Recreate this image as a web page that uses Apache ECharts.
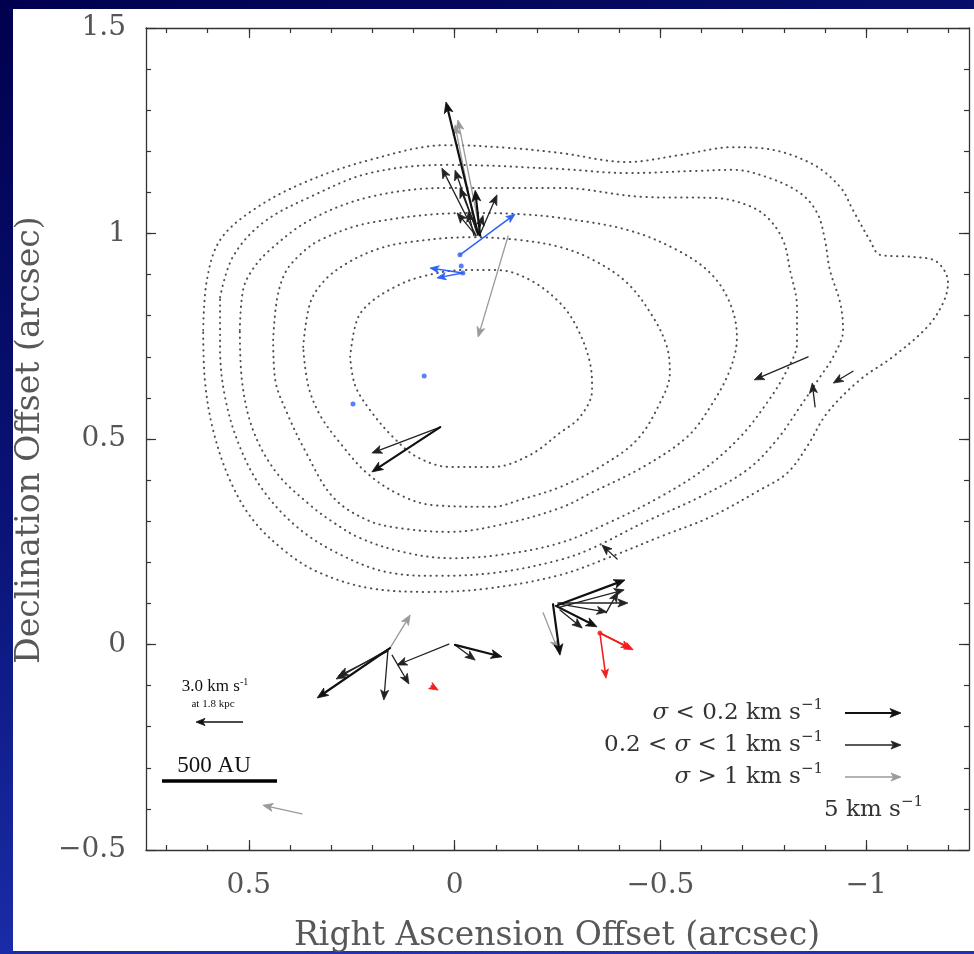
<!DOCTYPE html>
<html>
<head>
<meta charset="utf-8">
<script src="https://cdn.jsdelivr.net/npm/echarts@6/dist/echarts.min.js"></script>
<style>
  html, body { margin: 0; padding: 0; background: #000058; }
  #chart { width: 974px; height: 954px; }
</style>
</head>
<body>
<div id="chart"></div>
<script>
// Axis ticks (arcsec offsets)
const xMajorTicks = [0.5, 0, -0.5, -1];
const xMinorTicks = [0.7, 0.6, 0.5, 0.4, 0.3, 0.2, 0.1, 0, -0.1, -0.2, -0.3, -0.4, -0.5, -0.6, -0.7, -0.8, -0.9, -1, -1.1, -1.2];
const yMajorTicks = [1.5, 1, 0.5, 0, -0.5];
const yMinorTicks = [1.4, 1.3, 1.2, 1.1, 1, 0.9, 0.8, 0.7, 0.6, 0.5, 0.4, 0.3, 0.2, 0.1, 0, -0.1, -0.2, -0.3, -0.4];

// Continuum contours, outermost first: [RA offset, Dec offset]
const contour1 = [[0.611,0.765],[0.602,0.887],[0.570,0.984],[0.490,1.057],[0.368,1.123],[0.206,1.179],[0.018,1.215],[-0.135,1.208],[-0.256,1.196],[-0.419,1.174],[-0.548,1.191],[-0.677,1.210],[-0.742,1.208],[-0.864,1.172],[-0.937,1.113],[-0.968,1.057],[-1.009,0.984],[-1.034,0.948],[-1.114,0.943],[-1.172,0.931],[-1.199,0.880],[-1.187,0.831],[-1.148,0.772],[-1.065,0.700],[-0.985,0.644],[-0.905,0.563],[-0.856,0.481],[-0.808,0.417],[-0.742,0.376],[-0.621,0.310],[-0.499,0.262],[-0.378,0.213],[-0.256,0.169],[-0.086,0.137],[0.060,0.128],[0.206,0.137],[0.327,0.174],[0.407,0.223],[0.490,0.303],[0.546,0.400],[0.587,0.522],[0.607,0.644],[0.611,0.765]];
const contour2 = [[0.570,0.845],[0.539,0.943],[0.466,1.026],[0.351,1.089],[0.206,1.147],[0.018,1.167],[-0.256,1.157],[-0.419,1.147],[-0.579,1.152],[-0.677,1.155],[-0.759,1.137],[-0.839,1.099],[-0.881,1.050],[-0.900,0.984],[-0.912,0.911],[-0.937,0.831],[-0.944,0.765],[-0.920,0.700],[-0.888,0.651],[-0.839,0.578],[-0.783,0.498],[-0.711,0.425],[-0.596,0.359],[-0.458,0.296],[-0.336,0.235],[-0.256,0.206],[-0.110,0.176],[0.035,0.167],[0.164,0.176],[0.286,0.223],[0.383,0.286],[0.466,0.376],[0.522,0.481],[0.558,0.602],[0.570,0.724],[0.570,0.845]];
const contour3 = [[0.522,0.765],[0.514,0.863],[0.492,0.911],[0.449,0.960],[0.351,1.033],[0.206,1.089],[0.018,1.111],[-0.256,1.111],[-0.458,1.089],[-0.638,1.086],[-0.711,1.069],[-0.759,1.040],[-0.798,0.984],[-0.815,0.911],[-0.832,0.821],[-0.832,0.734],[-0.808,0.668],[-0.759,0.588],[-0.694,0.505],[-0.604,0.425],[-0.499,0.359],[-0.378,0.298],[-0.256,0.247],[-0.110,0.218],[0.011,0.210],[0.125,0.225],[0.230,0.259],[0.296,0.298],[0.351,0.339],[0.432,0.417],[0.490,0.522],[0.517,0.644],[0.522,0.765]];
const contour4 = [[0.441,0.741],[0.432,0.838],[0.412,0.904],[0.376,0.948],[0.327,0.984],[0.206,1.026],[-0.037,1.050],[-0.159,1.047],[-0.256,1.038],[-0.419,1.009],[-0.540,0.960],[-0.621,0.904],[-0.669,0.831],[-0.686,0.748],[-0.669,0.668],[-0.621,0.578],[-0.565,0.505],[-0.458,0.432],[-0.336,0.371],[-0.256,0.332],[-0.110,0.291],[0.011,0.274],[0.133,0.283],[0.213,0.303],[0.296,0.359],[0.364,0.473],[0.407,0.563],[0.436,0.644],[0.441,0.741]];
const contour5 = [[0.368,0.724],[0.351,0.831],[0.315,0.887],[0.261,0.928],[0.193,0.960],[0.125,0.977],[-0.037,0.991],[-0.159,0.984],[-0.256,0.967],[-0.336,0.936],[-0.419,0.880],[-0.482,0.797],[-0.516,0.724],[-0.523,0.661],[-0.499,0.588],[-0.443,0.498],[-0.353,0.432],[-0.256,0.383],[-0.159,0.352],[-0.093,0.335],[0.052,0.339],[0.133,0.364],[0.213,0.417],[0.278,0.490],[0.327,0.558],[0.356,0.631],[0.368,0.724]];
const contour6 = [[0.254,0.700],[0.237,0.790],[0.206,0.831],[0.145,0.870],[0.084,0.894],[-0.020,0.911],[-0.103,0.911],[-0.183,0.887],[-0.256,0.831],[-0.297,0.772],[-0.329,0.685],[-0.334,0.619],[-0.305,0.554],[-0.256,0.515],[-0.183,0.461],[-0.093,0.432],[0.011,0.432],[0.091,0.456],[0.150,0.505],[0.206,0.571],[0.242,0.631],[0.254,0.700]];

// Maser proper motions: [RA0, Dec0, RA1, Dec1] (start -> tip)
const arrowsLowSigma = [ // sigma < 0.2 km/s
  [-0.057, 0.999, 0.021, 1.320],
  [-0.062, 0.995, -0.050, 1.105],
  [0.035, 0.529, 0.201, 0.420],
  [-0.251, 0.096, -0.414, 0.157],
  [-0.246, 0.094, -0.346, 0.043],
  [-0.239, 0.098, -0.256, -0.026],
  [0.157, -0.009, 0.334, -0.130],
  [-0.001, -0.001, -0.115, -0.030]
];
const arrowsMidSigma = [ // 0.2 < sigma < 1 km/s
  [-0.052, 0.995, 0.031, 1.159],
  [-0.057, 0.995, -0.001, 1.154],
  [-0.057, 0.999, -0.013, 1.111],
  [-0.062, 0.999, -0.103, 1.094],
  [-0.052, 0.995, -0.006, 1.050],
  [-0.057, 0.999, -0.069, 1.044],
  [-0.047, 0.995, -0.033, 1.053],
  [0.035, 0.529, 0.201, 0.466],
  [-0.859, 0.700, -0.728, 0.644],
  [-0.876, 0.578, -0.869, 0.636],
  [-0.968, 0.665, -0.920, 0.636],
  [-0.395, 0.208, -0.358, 0.242],
  [-0.251, 0.101, -0.421, 0.101],
  [-0.256, 0.091, -0.412, 0.133],
  [-0.256, 0.084, -0.310, 0.040],
  [-0.256, 0.098, -0.370, 0.079],
  [-0.368, 0.077, -0.397, 0.128],
  [0.157, -0.009, 0.288, -0.084],
  [0.162, -0.016, 0.283, -0.077],
  [0.162, -0.013, 0.172, -0.135],
  [0.152, -0.026, 0.111, -0.096],
  [0.014, 0.001, 0.140, -0.050],
  [-0.001, -0.001, -0.050, -0.038]
];
const arrowsHighSigma = [ // sigma > 1 km/s
  [-0.062, 1.004, -0.008, 1.276],
  [-0.052, 1.004, -0.001, 1.264],
  [-0.130, 0.994, -0.057, 0.748],
  [-0.215, 0.077, -0.251, -0.013],
  [0.157, -0.009, 0.108, 0.072],
  [0.371, -0.412, 0.466, -0.391]
];
const arrowsBlue = [
  [-0.013, 0.948, -0.147, 1.047],
  [-0.020, 0.904, 0.060, 0.916],
  [-0.020, 0.904, 0.043, 0.892]
];
const spotsBlue = [[-0.013, 0.948], [-0.016, 0.921], [-0.020, 0.904], [0.074, 0.653], [0.247, 0.585]];
const arrowsRed = [
  [-0.353, 0.028, -0.434, -0.013],
  [-0.353, 0.028, -0.427, -0.009],
  [-0.353, 0.028, -0.368, -0.082],
  [0.057, -0.101, 0.040, -0.111]
];
const spotsRed = [[-0.353, 0.028]];

const SERIF = 'DejaVu Serif';
const TIMES = 'Liberation Serif';

function fmtTick(v) {
  return v < 0 ? '\u2212' + Math.abs(v) : String(v);
}

function headPoints(x0, y0, x1, y1, head) {
  const dx = x1 - x0, dy = y1 - y0;
  const L = Math.hypot(dx, dy) || 1;
  const ux = dx / L, uy = dy / L;
  const hw = head * 0.4;
  const bx = x1 - ux * head, by = y1 - uy * head;
  const notch = [x1 - ux * head * 0.75, y1 - uy * head * 0.75];
  return {
    notch: notch,
    pts: [[x1, y1], [bx - uy * hw, by + ux * hw], notch, [bx + uy * hw, by - ux * hw]]
  };
}

function arrowSeries(name, data, color, width, head) {
  return {
    type: 'custom',
    name: name,
    data: data,
    encode: { x: [0, 2], y: [1, 3] },
    clip: false,
    z: 5,
    renderItem: function (params, api) {
      const p0 = api.coord([api.value(0), api.value(1)]);
      const p1 = api.coord([api.value(2), api.value(3)]);
      const h = headPoints(p0[0], p0[1], p1[0], p1[1], head);
      return {
        type: 'group',
        children: [
          { type: 'line', shape: { x1: p0[0], y1: p0[1], x2: h.notch[0], y2: h.notch[1] },
            style: { stroke: color, lineWidth: width, lineCap: 'round' } },
          { type: 'polygon', shape: { points: h.pts },
            style: { fill: color, stroke: color, lineWidth: 0.8, lineJoin: 'round' } }
        ]
      };
    }
  };
}

function contourSeries(points) {
  return {
    type: 'line',
    data: points,
    smooth: 0.35,
    symbol: 'none',
    silent: true,
    z: 3,
    lineStyle: { color: '#505050', width: 2, type: [0.4, 5.4], cap: 'round' }
  };
}

// Arrow drawn in pixel space for the legend and the scale key
function keyArrow(x0, y0, x1, y1, color, width, head) {
  const h = headPoints(x0, y0, x1, y1, head);
  return [
    { type: 'line', z: 20, shape: { x1: x0, y1: y0, x2: h.notch[0], y2: h.notch[1] },
      style: { stroke: color, lineWidth: width } },
    { type: 'polygon', z: 20, shape: { points: h.pts },
      style: { fill: color, stroke: color, lineWidth: 0.8 } }
  ];
}

const supRich = {
  i: { fontFamily: SERIF, fontSize: 23, fontStyle: 'italic', fill: '#333' },
  s: { fontFamily: SERIF, fontSize: 15, fill: '#333', verticalAlign: 'bottom', padding: [0, 0, 15, 0] }
};

function keyText(x, y, text, align) {
  return {
    type: 'text', z: 20, x: x, y: y,
    style: {
      text: text, align: align, verticalAlign: 'middle',
      fontFamily: SERIF, fontSize: 23, fill: '#333', rich: supRich
    }
  };
}

function frameAxis(kind, pos, ticks, len, withLabels, withLine, labelTicks) {
  const isX = kind === 'x';
  return {
    type: 'value',
    position: pos,
    min: isX ? -1.25 : -0.5,
    max: isX ? 0.75 : 1.5,
    inverse: isX,
    splitLine: { show: false },
    axisLine: { show: withLine, onZero: false, lineStyle: { color: '#333', width: 1.3 } },
    axisTick: { show: true, inside: true, length: len, customValues: ticks,
                lineStyle: { color: '#333', width: 1.2 } },
    axisLabel: withLabels ? {
      show: true, customValues: labelTicks, formatter: fmtTick,
      fontFamily: SERIF, fontSize: 28, color: '#555', margin: isX ? 22 : 20
    } : { show: false }
  };
}

const chart = echarts.init(document.getElementById('chart'), null, { renderer: 'canvas' });

const bgGradient = new echarts.graphic.LinearGradient(0, 0, 0.35, 1, [
  { offset: 0, color: '#00004e' },
  { offset: 0.5, color: '#0a1478' },
  { offset: 1, color: '#1e32b4' }
]);

const graphics = [
  { type: 'rect', z: -20, silent: true, shape: { x: 0, y: 0, width: 974, height: 954 }, style: { fill: bgGradient } },
  { type: 'rect', z: -19, silent: true, shape: { x: 13, y: 9, width: 961, height: 942 }, style: { fill: '#ffffff' } },
  // axis titles
  { type: 'text', z: 20, x: 30, y: 440, rotation: Math.PI / 2,
    style: { text: 'Declination Offset (arcsec)', align: 'center', verticalAlign: 'middle',
             fontFamily: SERIF, fontSize: 33, fill: '#585858' } },
  { type: 'text', z: 20, x: 557, y: 936,
    style: { text: 'Right Ascension Offset (arcsec)', align: 'center', verticalAlign: 'middle',
             fontFamily: SERIF, fontSize: 33, fill: '#585858' } },
  // velocity key
  keyText(823, 713, '{i|\u03c3} < 0.2 km s{s|\u22121}', 'right'),
  keyText(823, 745, '0.2 < {i|\u03c3} < 1 km s{s|\u22121}', 'right'),
  keyText(823, 777, '{i|\u03c3} > 1 km s{s|\u22121}', 'right'),
  keyText(923, 810, '5 km s{s|\u22121}', 'right'),
  // scale key
  { type: 'text', z: 20, x: 215, y: 687,
    style: { text: '3.0 km s{t|-1}', align: 'center', verticalAlign: 'middle',
             fontFamily: TIMES, fontSize: 17, fill: '#111',
             rich: { t: { fontFamily: TIMES, fontSize: 10, fill: '#111', verticalAlign: 'bottom', padding: [0, 0, 10, 0] } } } },
  { type: 'text', z: 20, x: 213, y: 704,
    style: { text: 'at 1.8 kpc', align: 'center', verticalAlign: 'middle',
             fontFamily: TIMES, fontSize: 11, fill: '#111' } },
  { type: 'text', z: 20, x: 214, y: 766,
    style: { text: '500 AU', align: 'center', verticalAlign: 'middle',
             fontFamily: TIMES, fontSize: 23, fill: '#111' } },
  { type: 'line', z: 20, shape: { x1: 162, y1: 781, x2: 277, y2: 781 }, style: { stroke: '#000', lineWidth: 3.5 } }
].concat(
  keyArrow(243, 722, 196, 722, '#111', 1.3, 9),
  keyArrow(845, 713, 901, 713, '#111', 2.2, 11),
  keyArrow(845, 745, 901, 745, '#222', 1.3, 10),
  keyArrow(845, 777, 901, 777, '#9a9a9a', 1.3, 10)
);

chart.setOption({
  animation: false,
  backgroundColor: '#ffffff',
  grid: { left: 146, top: 28, right: 5, bottom: 104, containLabel: false },
  xAxis: [
    frameAxis('x', 'bottom', xMinorTicks, 5, true, true, xMajorTicks),
    frameAxis('x', 'bottom', xMajorTicks, 10, false, false),
    frameAxis('x', 'top', xMinorTicks, 5, false, true),
    frameAxis('x', 'top', xMajorTicks, 10, false, false)
  ],
  yAxis: [
    frameAxis('y', 'left', yMinorTicks, 5, true, true, yMajorTicks),
    frameAxis('y', 'left', yMajorTicks, 10, false, false),
    frameAxis('y', 'right', yMinorTicks, 5, false, true),
    frameAxis('y', 'right', yMajorTicks, 10, false, false)
  ],
  graphic: graphics,
  series: [
    contourSeries(contour1),
    contourSeries(contour2),
    contourSeries(contour3),
    contourSeries(contour4),
    contourSeries(contour5),
    contourSeries(contour6),
    arrowSeries('sigma > 1', arrowsHighSigma, '#9a9a9a', 1.3, 10),
    arrowSeries('0.2 < sigma < 1', arrowsMidSigma, '#222222', 1.3, 10),
    arrowSeries('sigma < 0.2', arrowsLowSigma, '#111111', 2.2, 11),
    arrowSeries('blue', arrowsBlue, '#2f62f5', 1.5, 9),
    arrowSeries('red', arrowsRed, '#f21d1d', 1.6, 9),
    { type: 'scatter', data: spotsBlue, symbolSize: 5, itemStyle: { color: '#2f62f5' }, z: 6 },
    { type: 'scatter', data: spotsRed, symbolSize: 5, itemStyle: { color: '#f21d1d' }, z: 6 }
  ]
});
</script>
</body>
</html>
